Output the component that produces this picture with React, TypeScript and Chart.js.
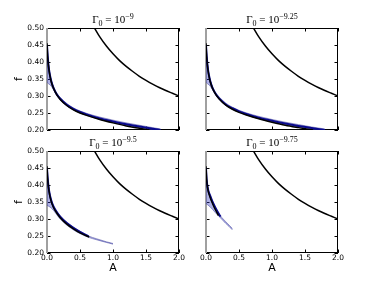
import React, { useEffect, useRef } from "react";
import { Chart, registerables } from "chart.js";
Chart.register(...registerables);

// Shared outer curve (same in every panel)
const curveA = [0.72, 0.8, 0.9, 1.0, 1.1, 1.2, 1.3, 1.4, 1.5, 1.6, 1.7, 1.8, 1.9, 2.0];
const curveF = [0.5, 0.474, 0.447, 0.424, 0.404, 0.387, 0.372, 0.358, 0.346, 0.335, 0.325, 0.316, 0.308, 0.3];

// Panel 1: Gamma0 = 10^-9
const bandA1 = [0, 0.01, 0.03, 0.06, 0.1, 0.15, 0.2, 0.3, 0.4, 0.5, 0.6, 0.8, 1.0, 1.2, 1.4, 1.6, 1.72];
const upper1 = [0.45, 0.42, 0.38, 0.35, 0.327, 0.308, 0.296, 0.278, 0.265, 0.256, 0.249, 0.238, 0.229, 0.221, 0.214, 0.207, 0.203];
const lower1 = [0.34, 0.338, 0.335, 0.33, 0.318, 0.301, 0.289, 0.271, 0.259, 0.25, 0.243, 0.231, 0.222, 0.214, 0.207, 0.201, 0.197];
const mean1 = [0.45, 0.418, 0.378, 0.347, 0.323, 0.304, 0.292, 0.274, 0.262, 0.253, 0.246, 0.234, 0.225, 0.217, 0.21, 0.204, 0.2];
const blackA1 = [0, 0.01, 0.03, 0.06, 0.1, 0.15, 0.2, 0.3, 0.4, 0.5, 0.6, 0.8, 1.0, 1.2, 1.4, 1.55];
const black1 = [0.455, 0.415, 0.376, 0.345, 0.322, 0.303, 0.29, 0.272, 0.259, 0.25, 0.243, 0.231, 0.221, 0.212, 0.205, 0.2];

// Panel 2: Gamma0 = 10^-9.25
const bandA2 = [0, 0.01, 0.03, 0.06, 0.1, 0.15, 0.2, 0.3, 0.4, 0.5, 0.6, 0.8, 1.0, 1.2, 1.4, 1.6, 1.8];
const upper2 = [0.45, 0.42, 0.38, 0.35, 0.327, 0.309, 0.297, 0.279, 0.267, 0.258, 0.251, 0.24, 0.231, 0.223, 0.216, 0.209, 0.203];
const lower2 = [0.34, 0.338, 0.335, 0.33, 0.318, 0.302, 0.29, 0.272, 0.261, 0.252, 0.245, 0.233, 0.224, 0.216, 0.209, 0.203, 0.197];
const mean2 = [0.45, 0.418, 0.378, 0.347, 0.323, 0.305, 0.293, 0.275, 0.264, 0.255, 0.248, 0.236, 0.227, 0.219, 0.212, 0.206, 0.2];
const blackA2 = [0, 0.01, 0.03, 0.06, 0.1, 0.15, 0.2, 0.3, 0.4, 0.5, 0.6, 0.8, 1.0, 1.2, 1.4, 1.62];
const black2 = [0.455, 0.415, 0.376, 0.345, 0.322, 0.304, 0.291, 0.273, 0.261, 0.252, 0.245, 0.233, 0.223, 0.214, 0.207, 0.2];

// Panel 3: Gamma0 = 10^-9.5
const bandA3 = [0, 0.01, 0.03, 0.06, 0.1, 0.15, 0.2, 0.3, 0.4, 0.5, 0.63, 0.75, 0.9, 1.0];
const upper3 = [0.45, 0.422, 0.388, 0.36, 0.338, 0.322, 0.309, 0.29, 0.276, 0.264, 0.25, 0.242, 0.233, 0.228];
const lower3 = [0.34, 0.339, 0.337, 0.333, 0.325, 0.312, 0.3, 0.282, 0.268, 0.257, 0.246, 0.239, 0.231, 0.226];
const meanA3 = [0, 0.01, 0.03, 0.06, 0.1, 0.15, 0.2, 0.3, 0.4, 0.5, 0.63];
const mean3 = [0.45, 0.42, 0.385, 0.357, 0.336, 0.32, 0.307, 0.288, 0.274, 0.262, 0.249];
const blackA3 = [0, 0.01, 0.03, 0.06, 0.1, 0.15, 0.2, 0.3, 0.4, 0.5, 0.64];
const black3 = [0.455, 0.418, 0.382, 0.354, 0.333, 0.317, 0.304, 0.285, 0.271, 0.259, 0.247];

// Panel 4: Gamma0 = 10^-9.75
const bandA4 = [0, 0.01, 0.03, 0.06, 0.1, 0.14, 0.18, 0.22, 0.26, 0.3, 0.35, 0.4];
const upper4 = [0.45, 0.416, 0.39, 0.372, 0.352, 0.336, 0.321, 0.309, 0.3, 0.292, 0.282, 0.272];
const lower4 = [0.345, 0.344, 0.341, 0.336, 0.328, 0.319, 0.311, 0.303, 0.295, 0.287, 0.278, 0.268];
const meanA4 = [0, 0.01, 0.03, 0.06, 0.1, 0.14, 0.18, 0.22];
const mean4 = [0.45, 0.415, 0.388, 0.37, 0.35, 0.334, 0.32, 0.307];
const blackA4 = [0, 0.01, 0.03, 0.06, 0.1, 0.14, 0.19];
const black4 = [0.455, 0.415, 0.385, 0.365, 0.345, 0.328, 0.31];

const exponents = ["−9", "−9.25", "−9.5", "−9.75"];
const xMin = 0, xMax = 2, xStep = 0.5;
const yMin = 0.2, yMax = 0.5, yStep = 0.05;
const edgeA = [0, 0];
const edgeF = [0.2, 0.5];

const zip = (a: number[], f: number[]) => a.map((x, i) => ({ x, y: f[i] }));

const panels = [
  { left: 47, top: 28, right: 179, bottom: 130, showX: false, showY: true, exp: exponents[0],
    bandA: bandA1, upper: upper1, lower: lower1, meanA: bandA1, mean: mean1, blackA: blackA1, black: black1 },
  { left: 206, top: 28, right: 338, bottom: 130, showX: false, showY: false, exp: exponents[1],
    bandA: bandA2, upper: upper2, lower: lower2, meanA: bandA2, mean: mean2, blackA: blackA2, black: black2 },
  { left: 47, top: 151, right: 179, bottom: 253, showX: true, showY: true, exp: exponents[2],
    bandA: bandA3, upper: upper3, lower: lower3, meanA: meanA3, mean: mean3, blackA: blackA3, black: black3 },
  { left: 206, top: 151, right: 338, bottom: 253, showX: true, showY: false, exp: exponents[3],
    bandA: bandA4, upper: upper4, lower: lower4, meanA: meanA4, mean: mean4, blackA: blackA4, black: black4 },
];

const W = 376, H = 282, YW = 47, XH = 29;
const tickFont = { family: "'DejaVu Sans', sans-serif", size: 7.5 };
const labelFont = { family: "'DejaVu Sans', sans-serif", size: 11 };

const makeFramePlugin = (exp: string) => ({
  id: "frame",
  beforeDatasetsDraw(chart: any) {
    const { ctx, chartArea, scales } = chart;
    const { left, top, right, bottom } = chartArea;
    ctx.save();
    ctx.strokeStyle = "#000";
    ctx.lineWidth = 1;
    ctx.strokeRect(left + 0.5, top + 0.5, right - left - 1, bottom - top - 1);
    ctx.beginPath();
    scales.x.ticks.forEach((t: any) => {
      const px = Math.round(scales.x.getPixelForValue(t.value)) + 0.5;
      ctx.moveTo(px, bottom); ctx.lineTo(px, bottom - 3.5);
      ctx.moveTo(px, top); ctx.lineTo(px, top + 3.5);
    });
    scales.y.ticks.forEach((t: any) => {
      const py = Math.round(scales.y.getPixelForValue(t.value)) + 0.5;
      ctx.moveTo(left, py); ctx.lineTo(left + 3.5, py);
      ctx.moveTo(right, py); ctx.lineTo(right - 3.5, py);
    });
    ctx.stroke();
    ctx.restore();
  },
  afterDraw(chart: any) {
    const { ctx, chartArea } = chart;
    const cx = (chartArea.left + chartArea.right) / 2;
    const base = chartArea.top - 5;
    const big = "11px 'Liberation Serif', serif";
    const small = "8px 'Liberation Serif', serif";
    const parts = [
      { t: "Γ", f: big, dy: 0 },
      { t: "0", f: small, dy: 2.5 },
      { t: " = 10", f: big, dy: 0 },
      { t: exp, f: small, dy: -4.5 },
    ];
    ctx.save();
    ctx.fillStyle = "#000";
    ctx.textBaseline = "alphabetic";
    ctx.textAlign = "left";
    let total = 0;
    const widths = parts.map((p) => { ctx.font = p.f; const w = ctx.measureText(p.t).width; total += w; return w; });
    let x = cx - total / 2;
    parts.forEach((p, i) => { ctx.font = p.f; ctx.fillText(p.t, x, base + p.dy); x += widths[i]; });
    ctx.restore();
  },
});

function Panel({ p }: { p: any }) {
  const ref = useRef<HTMLCanvasElement>(null);
  useEffect(() => {
    const bandFill = "rgba(45,50,185,0.38)";
    const bandEdge = "rgba(80,80,160,0.55)";
    const chart = new Chart(ref.current!, {
      type: "line",
      data: {
        datasets: [
          { data: zip(curveA, curveF), borderColor: "#000", borderWidth: 1.5, pointRadius: 0, fill: false, cubicInterpolationMode: "monotone" },
          { data: zip(p.blackA, p.black), borderColor: "#000", borderWidth: 1.5, pointRadius: 0, fill: false, cubicInterpolationMode: "monotone" },
          { data: zip(p.meanA, p.mean), borderColor: "#0a0a8c", borderWidth: 2, pointRadius: 0, fill: false, cubicInterpolationMode: "monotone" },
          { data: zip(p.bandA, p.upper), borderColor: bandEdge, borderWidth: 1, pointRadius: 0, fill: "+1", backgroundColor: bandFill, cubicInterpolationMode: "monotone" },
          { data: zip(p.bandA, p.lower), borderColor: bandEdge, borderWidth: 1, pointRadius: 0, fill: false, cubicInterpolationMode: "monotone" },
          { data: zip(edgeA, edgeF), borderColor: "#a0a0a0", borderWidth: 2, pointRadius: 0, fill: false, clip: false },
        ] as any,
      },
      options: {
        responsive: false,
        animation: false,
        events: [],
        layout: { padding: { left: p.left - YW, top: p.top, right: W - p.right, bottom: H - p.bottom - XH } },
        plugins: { legend: { display: false }, tooltip: { enabled: false }, title: { display: false } },
        scales: {
          x: {
            type: "linear", min: xMin, max: xMax,
            ticks: { stepSize: xStep, display: p.showX, font: tickFont, color: "#000", padding: 1, maxRotation: 0, autoSkip: false,
              callback: (v: any) => Number(v).toFixed(1) },
            grid: { display: false, drawTicks: false },
            border: { display: false },
            title: { display: p.showX, text: "A", font: labelFont, color: "#000", padding: { top: 0, bottom: 7.5 } },
            afterFit: (s: any) => { s.height = XH; s.paddingLeft = 0; s.paddingRight = 0; },
          },
          y: {
            type: "linear", min: yMin, max: yMax,
            ticks: { stepSize: yStep, display: p.showY, font: tickFont, color: "#000", padding: 3, autoSkip: false,
              callback: (v: any) => Number(v).toFixed(2) },
            grid: { display: false, drawTicks: false },
            border: { display: false },
            title: { display: p.showY, text: "f", font: labelFont, color: "#000", padding: { top: 12.5, bottom: 0 } },
            afterFit: (s: any) => { s.width = YW; s.paddingTop = 0; s.paddingBottom = 0; },
          },
        },
      } as any,
      plugins: [makeFramePlugin(p.exp)],
    });
    return () => chart.destroy();
  }, []);
  return <canvas ref={ref} width={W} height={H} style={{ position: "absolute", left: 0, top: 0, width: W, height: H }} />;
}

export default function App() {
  return (
    <div style={{ position: "absolute", left: 0, top: 0, width: W, height: H, background: "#fff" }}>
      {panels.map((p, i) => <Panel key={i} p={p} />)}
    </div>
  );
}
